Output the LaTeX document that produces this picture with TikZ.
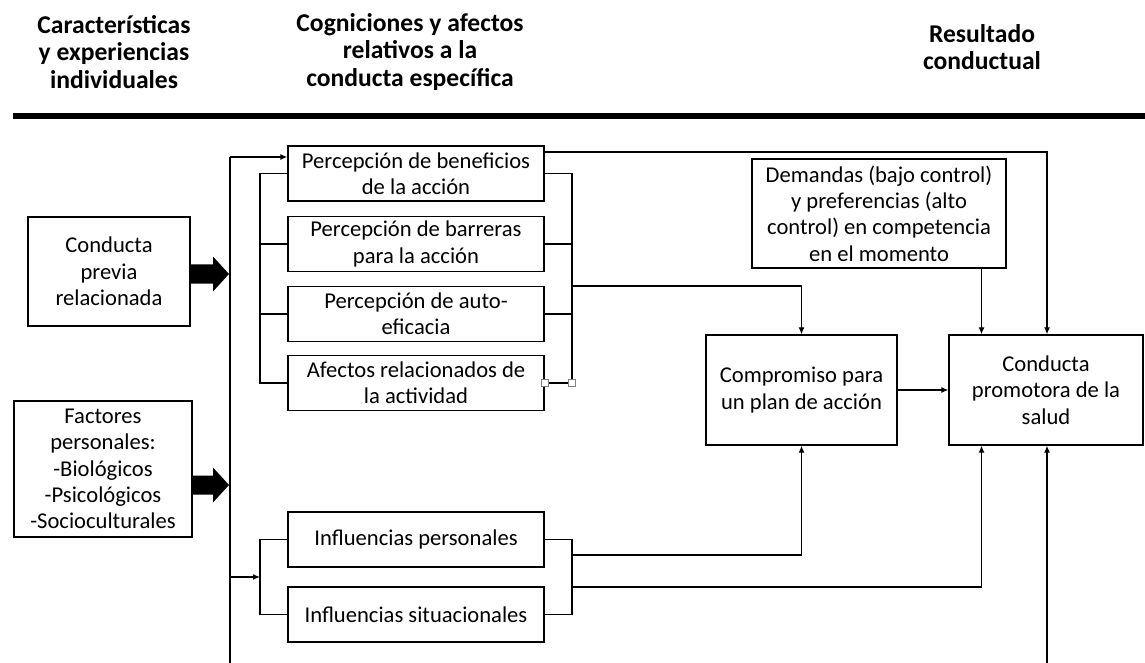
\documentclass[tikz,border=0pt]{standalone}
\usepackage{fontspec}
\setmainfont{Carlito}
\usetikzlibrary{calc,arrows.meta}

\tikzset{
  box/.style={draw,line width=0.7pt,align=center,inner sep=1pt,
    font=\fontsize{11.3}{13.2}\selectfont},
  mid/.style={box,minimum width=128pt,minimum height=27.5pt},
  hd/.style={align=center,font=\fontsize{12.8}{13.6}\selectfont\bfseries},
  ln/.style={line width=0.6pt},
  arr/.style={ln,-{Latex[length=3.5pt,width=3pt]}},
  hdl/.style={draw=gray,fill=white,line width=0.4pt,minimum size=3.5pt,inner sep=0pt}
}

% thick block arrow from #1 to #2
\newcommand{\fatarrow}[2]{%
  \fill ($(#1)+(0,-9.5)$) -- ($(#2)+(-16,-9.5)$) -- ($(#2)+(-16,-17.5)$) -- (#2)
    -- ($(#2)+(-16,17.5)$) -- ($(#2)+(-16,9.5)$) -- ($(#1)+(0,9.5)$) -- cycle;}

\begin{document}
\begin{tikzpicture}[x=0.5pt,y=-0.5pt]
  \useasboundingbox (0,0) rectangle (1145,663);
  % headers
  \node[hd] (h1) at (114,52) {Características\\y experiencias\\individuales};
  \node[hd] (h2) at (410,52) {Cogniciones y afectos\\relativos a la\\conducta específica};
  \node[hd] (h3) at (982,47) {Resultado\\conductual};
  \coordinate (hl) at (13,116);
  \coordinate (hr) at (1145,116);
  \draw[line width=3pt] (hl) -- (hr);
  % boxes
  \node[box,minimum width=81pt,minimum height=54.5pt] (cpr) at (109,271.5) {Conducta\\previa\\relacionada};
  \node[box,minimum width=89pt,minimum height=68pt] (fac) at (103,469) {Factores\\personales:\\-Biológicos\\-Psicológicos\\-Socioculturales};
  \node[mid] (pben) at (416,173.5) {Percepción de beneficios\\de la acción};
  \node[mid] (pbar) at (416,244) {Percepción de barreras\\para la acción};
  \node[mid] (paut) at (416,314) {Percepción de auto-\\eficacia};
  \node[mid] (afec) at (416,383) {Afectos relacionados de\\la actividad};
  \node[mid] (iper) at (416,539.5) {Influencias personales};
  \node[mid] (isit) at (416,614.5) {Influencias situacionales};
  \node[box,minimum width=95.5pt,minimum height=55pt] (comp) at (801.5,390) {Compromiso para\\un plan de acción};
  \node[box,minimum width=97pt,minimum height=55pt] (cpro) at (1046,390) {Conducta\\promotora de la\\salud};
  \node[box,minimum width=127pt,minimum height=54.5pt] (dem) at (879,213.5) {Demandas (bajo control)\\y preferencias (alto\\control) en competencia\\en el momento};
  % trunk on the left
  \coordinate (tt) at (230,157);
  \coordinate (tb) at (230,663);
  \coordinate (lb) at (260,577);
  \coordinate (lx) at (260,0);
  \coordinate (rx) at (572,286);
  \coordinate (rb) at (572,555);
  \coordinate (rc) at (572,587);
  \coordinate (c2) at (981.5,0);
  \coordinate (t1) at (1047,152);
  \coordinate (b1) at (1047,663);
  \coordinate (f1) at (229,274);
  \coordinate (f2) at (229,485);
  \draw[ln] (tb) -- (tt);
  \draw[arr] (tt) -- (tt -| pben.west);
  \draw[arr] (tt |- lb) -- (lb);
  \fatarrow{cpr.east |- f1}{f1}
  \fatarrow{fac.east |- f2}{f2}
  % brackets
  \draw[ln] (pben.west) -- (pben.west -| lx) -- (afec.west -| lx) -- (afec.west);
  \draw[ln] (pbar.west) -- (pbar.west -| lx);
  \draw[ln] (paut.west) -- (paut.west -| lx);
  \draw[ln] (pben.east) -- (pben.east -| rx) -- (afec.east -| rx) -- (afec.east);
  \draw[ln] (pbar.east) -- (pbar.east -| rx);
  \draw[ln] (paut.east) -- (paut.east -| rx);
  \node[hdl] (s1) at (afec.east) {};
  \node[hdl] (s2) at (afec.east -| rx) {};
  \draw[ln] (iper.west) -| (lb) |- (isit.west);
  \draw[ln] (iper.east) -| (rb) |- (isit.east);
  % right side
  \draw[arr] (rx) -| (comp.north);
  \draw[arr] (rb) -| (comp.south);
  \draw[arr] (rc) -| (cpro.south -| c2);
  \draw[arr] (dem.south -| c2) -- (cpro.north -| c2);
  \draw[arr] (pben.east |- t1) -- (t1) -- (cpro.north -| t1);
  \draw[arr] (b1) -- (cpro.south -| b1);
  \draw[arr] (comp) -- (cpro);
\end{tikzpicture}
\end{document}
